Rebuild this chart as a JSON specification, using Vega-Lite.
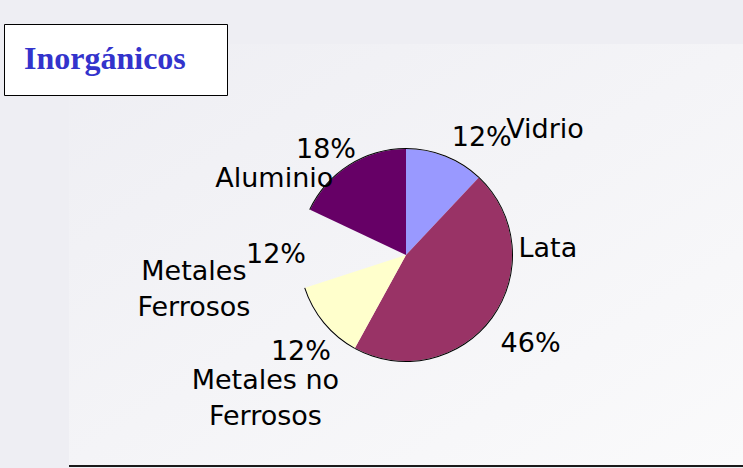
{
  "$schema": "https://vega.github.io/schema/vega-lite/v6.json",
  "autosize": {"type": "none"},
  "width": 674,
  "height": 422,
  "padding": {"left": 69, "top": 44, "right": 0, "bottom": 2},
  "background": "#EEEEF3",
  "config": {"view": {"stroke": null}, "text": {"font": "DejaVu Sans", "fontSize": 27, "color": "#000000", "lineBreak": "\n", "lineHeight": 36}},
  "datasets": {
    "residuos": [
      {"categoria": "Vidrio", "etiqueta": "Vidrio", "valor": 0.12, "orden": 1},
      {"categoria": "Lata", "etiqueta": "Lata", "valor": 0.46, "orden": 2},
      {"categoria": "Metales no Ferrosos", "etiqueta": "Metales no\nFerrosos", "valor": 0.12, "orden": 3},
      {"categoria": "Metales Ferrosos", "etiqueta": "Metales\nFerrosos", "valor": 0.12, "orden": 4},
      {"categoria": "Aluminio", "etiqueta": "Aluminio", "valor": 0.18, "orden": 5}
    ],
    "fondo": [{}]
  },
  "layer": [
    {
      "data": {"name": "fondo"},
      "mark": {
        "type": "rect",
        "fill": {"gradient": "linear", "x1": 0, "y1": 0, "x2": 1, "y2": 1,
          "stops": [{"offset": 0, "color": "#EEEEF3"}, {"offset": 1, "color": "#FAFAFB"}]},
        "stroke": "#1A1A1A", "strokeWidth": 2, "strokeDash": [0, 1096, 674, 422]
      },
      "encoding": {}
    },
    {
      "data": {"name": "residuos"},
      "layer": [
        {
          "mark": {"type": "arc", "radius": 106},
          "encoding": {
            "theta": {"field": "valor", "type": "quantitative", "stack": true},
            "order": {"field": "orden", "type": "quantitative"},
            "color": {
              "field": "categoria", "type": "nominal",
              "scale": {"domain": ["Vidrio", "Lata", "Metales no Ferrosos", "Metales Ferrosos", "Aluminio"],
                        "range": ["#9999FF", "#993366", "#FFFFCC", "#FFFFFF", "#660066"]},
              "legend": {
                "title": "Inorgánicos", "orient": "none", "legendX": -65, "legendY": -20,
                "values": ["Vidrio"], "labelExpr": "''", "symbolSize": 0, "symbolOpacity": 0,
                "symbolStrokeWidth": 0, "labelOffset": 5, "labelFontSize": 16,
                "titleOrient": "left", "titlePadding": 0, "titleBaseline": "top", "titleAnchor": "start",
                "titleFont": "Liberation Serif", "titleFontSize": 32, "titleFontWeight": "bold",
                "titleColor": "#3333CC",
                "fillColor": "#FFFFFF", "strokeColor": "#000000", "padding": 20
              }
            },
            "opacity": {"condition": {"test": "datum.categoria === 'Metales Ferrosos'", "value": 0}, "value": 1}
          }
        },
        {
          "mark": {"type": "arc", "radius": 107, "radius2": 106, "fill": "#000000"},
          "encoding": {
            "theta": {"field": "valor", "type": "quantitative", "stack": true},
            "order": {"field": "orden", "type": "quantitative"},
            "opacity": {"condition": {"test": "datum.categoria === 'Metales Ferrosos'", "value": 0}, "value": 1}
          }
        },
        {
          "mark": {"type": "text", "radius": 139, "thetaOffset": 0.199},
          "encoding": {
            "theta": {"field": "valor", "type": "quantitative", "stack": true},
            "order": {"field": "orden", "type": "quantitative"},
            "text": {"field": "valor", "type": "quantitative", "format": ".0%"},
            "opacity": {"condition": {"test": "datum.categoria === 'Vidrio'", "value": 1}, "value": 0}
          }
        },
        {
          "mark": {"type": "text", "radius": 153, "thetaOffset": -0.009},
          "encoding": {
            "theta": {"field": "valor", "type": "quantitative", "stack": true},
            "order": {"field": "orden", "type": "quantitative"},
            "text": {"field": "valor", "type": "quantitative", "format": ".0%"},
            "opacity": {"condition": {"test": "datum.categoria === 'Lata'", "value": 1}, "value": 0}
          }
        },
        {
          "mark": {"type": "text", "radius": 143, "thetaOffset": -0.054},
          "encoding": {
            "theta": {"field": "valor", "type": "quantitative", "stack": true},
            "order": {"field": "orden", "type": "quantitative"},
            "text": {"field": "valor", "type": "quantitative", "format": ".0%"},
            "opacity": {"condition": {"test": "datum.categoria === 'Metales no Ferrosos'", "value": 1}, "value": 0}
          }
        },
        {
          "mark": {"type": "text", "radius": 130, "thetaOffset": -0.063},
          "encoding": {
            "theta": {"field": "valor", "type": "quantitative", "stack": true},
            "order": {"field": "orden", "type": "quantitative"},
            "text": {"field": "valor", "type": "quantitative", "format": ".0%"},
            "opacity": {"condition": {"test": "datum.categoria === 'Metales Ferrosos'", "value": 1}, "value": 0}
          }
        },
        {
          "mark": {"type": "text", "radius": 132, "thetaOffset": -0.086},
          "encoding": {
            "theta": {"field": "valor", "type": "quantitative", "stack": true},
            "order": {"field": "orden", "type": "quantitative"},
            "text": {"field": "valor", "type": "quantitative", "format": ".0%"},
            "opacity": {"condition": {"test": "datum.categoria === 'Aluminio'", "value": 1}, "value": 0}
          }
        },
        {
          "mark": {"type": "text", "radius": 187, "thetaOffset": 0.461},
          "encoding": {
            "theta": {"field": "valor", "type": "quantitative", "stack": true},
            "order": {"field": "orden", "type": "quantitative"},
            "text": {"field": "etiqueta", "type": "nominal"},
            "opacity": {"condition": {"test": "datum.categoria === 'Vidrio'", "value": 1}, "value": 0}
          }
        },
        {
          "mark": {"type": "text", "radius": 142, "thetaOffset": -0.670},
          "encoding": {
            "theta": {"field": "valor", "type": "quantitative", "stack": true},
            "order": {"field": "orden", "type": "quantitative"},
            "text": {"field": "etiqueta", "type": "nominal"},
            "opacity": {"condition": {"test": "datum.categoria === 'Lata'", "value": 1}, "value": 0}
          }
        },
        {
          "mark": {"type": "text", "radius": 201, "thetaOffset": -0.105, "dy": -18},
          "encoding": {
            "theta": {"field": "valor", "type": "quantitative", "stack": true},
            "order": {"field": "orden", "type": "quantitative"},
            "text": {"field": "etiqueta", "type": "nominal"},
            "opacity": {"condition": {"test": "datum.categoria === 'Metales no Ferrosos'", "value": 1}, "value": 0}
          }
        },
        {
          "mark": {"type": "text", "radius": 215, "thetaOffset": -0.227, "dy": -18},
          "encoding": {
            "theta": {"field": "valor", "type": "quantitative", "stack": true},
            "order": {"field": "orden", "type": "quantitative"},
            "text": {"field": "etiqueta", "type": "nominal"},
            "opacity": {"condition": {"test": "datum.categoria === 'Metales Ferrosos'", "value": 1}, "value": 0}
          }
        },
        {
          "mark": {"type": "text", "radius": 152, "thetaOffset": -0.483},
          "encoding": {
            "theta": {"field": "valor", "type": "quantitative", "stack": true},
            "order": {"field": "orden", "type": "quantitative"},
            "text": {"field": "etiqueta", "type": "nominal"},
            "opacity": {"condition": {"test": "datum.categoria === 'Aluminio'", "value": 1}, "value": 0}
          }
        }
      ]
    }
  ]
}
